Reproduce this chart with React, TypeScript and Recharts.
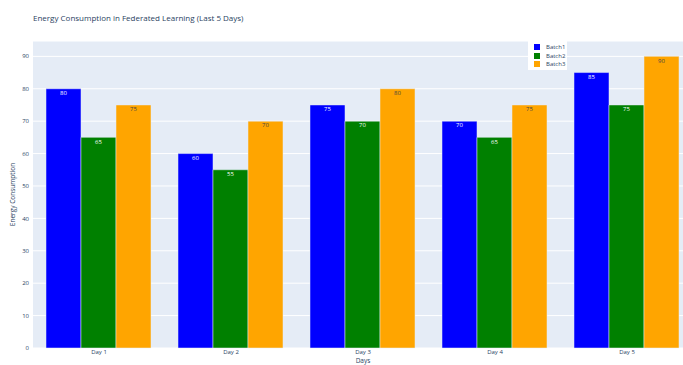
import { Bar, BarChart, CartesianGrid, Label, LabelList, Legend, XAxis, YAxis } from "recharts"

const days = ["Day 1", "Day 2", "Day 3", "Day 4", "Day 5"]
const batch1 = [80, 60, 75, 70, 85]
const batch2 = [65, 55, 70, 65, 75]
const batch3 = [75, 70, 80, 75, 90]
const yTicks = [0, 10, 20, 30, 40, 50, 60, 70, 80, 90]

const series = [
  { key: "Batch1", color: "#0000ff", text: "#ffffff" },
  { key: "Batch2", color: "#008000", text: "#ffffff" },
  { key: "Batch3", color: "#ffa500", text: "#444444" },
]

const data = days.map((day, i) => ({
  day,
  Batch1: batch1[i],
  Batch2: batch2[i],
  Batch3: batch3[i],
}))

const font = '"Open Sans", verdana, arial, sans-serif'
const ink = "#2a3f5f"

const LegendBox = () => (
  <div
    style={{
      position: "absolute",
      left: 528,
      top: 37,
      width: 39,
      height: 33,
      background: "#ffffff",
      fontFamily: font,
      fontSize: 6,
      color: ink,
      boxSizing: "border-box",
      paddingTop: 6,
    }}
  >
    {series.map((s) => (
      <div key={s.key} style={{ display: "flex", alignItems: "center", height: 8.5 }}>
        <span
          style={{
            display: "inline-block",
            width: 6,
            height: 6,
            marginLeft: 6,
            marginRight: 6,
            background: s.color,
          }}
        />
        <span>{s.key}</span>
      </div>
    ))}
  </div>
)

export default function App() {
  return (
    <div
      style={{
        position: "fixed",
        left: 0,
        top: 0,
        width: 683,
        height: 365,
        overflow: "hidden",
        background: "#ffffff",
        fontFamily: font,
      }}
    >
      <div
        style={{
          position: "absolute",
          left: 33,
          top: 12,
          fontSize: 8,
          color: ink,
          whiteSpace: "nowrap",
        }}
      >
        Energy Consumption in Federated Learning (Last 5 Days)
      </div>
      <BarChart
        width={700}
        height={365}
        data={data}
        margin={{ top: 41, right: 7, left: 0, bottom: 0 }}
        barCategoryGap={13}
        barGap={0}
        style={{ position: "absolute", left: 0, top: 0 }}
      >
        <CartesianGrid vertical={false} stroke="#ffffff" strokeWidth={1} fill="#E5ECF6" />
        <XAxis
          dataKey="day"
          height={17}
          axisLine={false}
          tickLine={false}
          tickSize={2}
          tickMargin={0}
          tick={{ fontSize: 6, fill: ink, fontFamily: font }}
        >
          <Label value="Days" position="insideBottom" offset={2} style={{ fontSize: 6.5, fill: ink, fontFamily: font }} />
        </XAxis>
        <YAxis
          width={33}
          domain={[0, 94.74]}
          ticks={yTicks}
          axisLine={false}
          tickLine={false}
          tickSize={4}
          tickMargin={0}
          tick={{ fontSize: 6, fill: ink, fontFamily: font }}
        >
          <Label
            value="Energy Consumption"
            angle={-90}
            position="insideLeft"
            offset={13}
            style={{ textAnchor: "middle", fontSize: 6.5, fill: ink, fontFamily: font }}
          />
        </YAxis>
        <Legend content={() => <LegendBox />} wrapperStyle={{ position: "absolute", left: 0, top: 0, width: 0, height: 0 }} />
        {series.map((s) => (
          <Bar
            key={s.key}
            dataKey={s.key}
            fill={s.color}
            stroke="#E5ECF6"
            strokeWidth={0.5}
            isAnimationActive={false}
          >
            <LabelList
              dataKey={s.key}
              position="insideTop"
              offset={2}
              style={{ fontSize: 6, fill: s.text, fontFamily: font }}
            />
          </Bar>
        ))}
      </BarChart>
    </div>
  )
}
